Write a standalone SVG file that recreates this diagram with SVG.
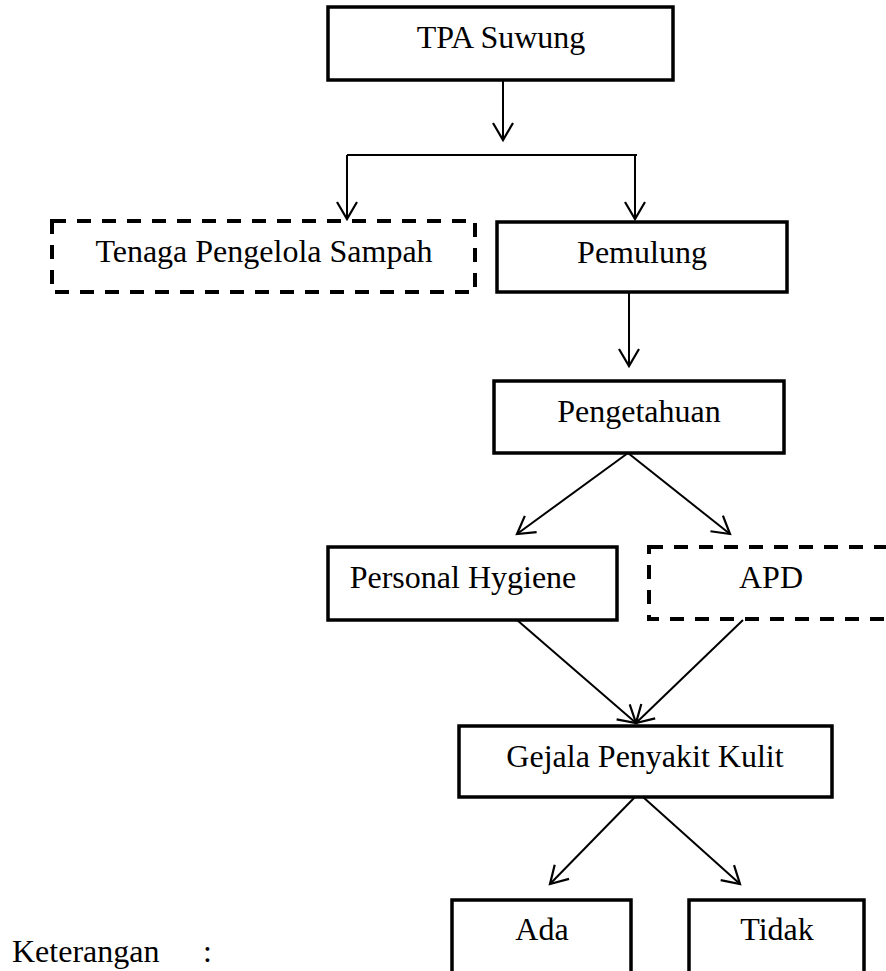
<svg xmlns="http://www.w3.org/2000/svg" width="886" height="971" viewBox="0 0 886 971">
<style>
.box{fill:#fff;stroke:#000;stroke-width:3.5}
.dash{fill:#fff;stroke:#000;stroke-width:4;stroke-dasharray:14 11}
.t{font-family:"Liberation Serif","Times New Roman",serif;font-size:32px;fill:#000;text-anchor:middle}
.c{fill:none;stroke:#000;stroke-width:2}
</style>
<defs>
<marker id="arr" markerUnits="userSpaceOnUse" markerWidth="40" markerHeight="40" viewBox="-20 -20 40 40" refX="0" refY="0" orient="auto" overflow="visible">
<path d="M-17,-10 L0,0 L-17,10" fill="none" stroke="#000" stroke-width="2.2"/>
</marker>
</defs>
<rect width="886" height="971" fill="#fff"/>
<g id="connectors">
<path class="c" d="M503,80 V140" marker-end="url(#arr)"/>
<path class="c" d="M347,155 H637"/>
<path class="c" d="M347,155 V219" marker-end="url(#arr)"/>
<path class="c" d="M635,155 V219" marker-end="url(#arr)"/>
<path class="c" d="M629,292 V366" marker-end="url(#arr)"/>
<path class="c" d="M628,453 L517,534" marker-end="url(#arr)"/>
<path class="c" d="M628,453 L730,534" marker-end="url(#arr)"/>
<path class="c" d="M517,620 L636,723" marker-end="url(#arr)"/>
<path class="c" d="M743,620 L636,723" marker-end="url(#arr)"/>
<path class="c" d="M635,797 L550,884" marker-end="url(#arr)"/>
<path class="c" d="M643,797 L740,884" marker-end="url(#arr)"/>
</g>
<g id="tpa"><rect class="box" x="328" y="7" width="345" height="73"/><text class="t" x="501" y="48">TPA Suwung</text></g>
<g id="tenaga"><rect class="dash" x="52" y="221" width="423" height="71"/><text class="t" x="264" y="262">Tenaga Pengelola Sampah</text></g>
<g id="pemulung"><rect class="box" x="497" y="222" width="290" height="70"/><text class="t" x="642" y="263">Pemulung</text></g>
<g id="pengetahuan"><rect class="box" x="494" y="381" width="290" height="72"/><text class="t" x="639" y="422">Pengetahuan</text></g>
<g id="personal-hygiene"><rect class="box" x="328" y="547" width="289" height="73"/><text class="t" x="463" y="588">Personal Hygiene</text></g>
<g id="apd"><rect class="dash" x="649" y="547" width="244" height="72"/><text class="t" x="771" y="588">APD</text></g>
<g id="gejala"><rect class="box" x="459" y="726" width="373" height="71"/><text class="t" x="645" y="767">Gejala Penyakit Kulit</text></g>
<g id="ada"><rect class="box" x="452" y="900" width="179" height="90"/><text class="t" x="542" y="940">Ada</text></g>
<g id="tidak"><rect class="box" x="689" y="900" width="175" height="90"/><text class="t" x="777" y="940">Tidak</text></g>
<g id="keterangan"><text class="t" style="text-anchor:start" x="12" y="962">Keterangan<tspan x="203">:</tspan></text></g>
</svg>
